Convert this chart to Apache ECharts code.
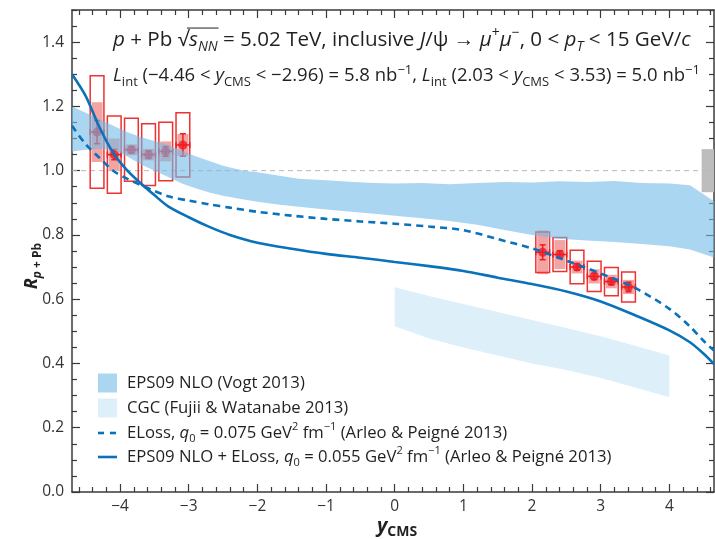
<!DOCTYPE html>
<html>
<head>
<meta charset="utf-8">
<script src="https://cdn.jsdelivr.net/npm/echarts@6/dist/echarts.min.js"></script>
<style>html,body{margin:0;padding:0;background:#fff}#chart{width:715px;height:539px}</style>
</head>
<body>
<div id="chart"></div>
<script>
// Inclusive J/psi nuclear modification factor R_pPb versus rapidity,
// measured points compared with model calculations.

// ---- measured points: backward rapidity (Pb-going side) ----
const yBackward        = [-4.335, -4.085, -3.835, -3.585, -3.335, -3.085];
const rBackward        = [1.12, 1.05, 1.065, 1.05, 1.06, 1.08];
const statBackward     = [0.036, 0.016, 0.010, 0.012, 0.015, 0.035];
const sysUncorrBackward = [0.175, 0.12, 0.098, 0.096, 0.091, 0.10];   // open boxes
const sysCorrBackward  = [0.093, 0.05, 0.017, 0.018, 0.031, 0.034];   // filled boxes

// ---- measured points: forward rapidity (p-going side) ----
const yForward         = [2.155, 2.405, 2.655, 2.905, 3.155, 3.405];
const rForward         = [0.746, 0.739, 0.700, 0.671, 0.655, 0.638];
const statForward      = [0.023, 0.012, 0.010, 0.010, 0.010, 0.015];
const sysUncorrForward = [0.063, 0.053, 0.052, 0.047, 0.044, 0.047];
const sysCorrForward   = [0.068, 0.045, 0.020, 0.022, 0.021, 0.022];

// global (fully correlated) uncertainty around unity
const globalUncertainty = 0.067;
const globalBoxRange    = [4.47, 4.65];

// ---- energy-loss curves (Arleo & Peigne 2013) ----
const curveY = [-4.7, -4.5, -4.3, -4.1, -3.9, -3.7, -3.5, -3.3, -3.0, -2.7, -2.4, -2.0, -1.5, -1.0, -0.5, 0, 0.5, 1.0, 1.5, 2.0, 2.5, 3.0, 3.5, 4.0, 4.3, 4.5, 4.65];
const eLoss075 = [1.14, 1.082, 1.04, 1.0, 0.975, 0.955, 0.937, 0.92, 0.907, 0.895, 0.885, 0.872, 0.86, 0.85, 0.842, 0.835, 0.826, 0.815, 0.787, 0.758, 0.72, 0.68, 0.635, 0.57, 0.515, 0.47, 0.44];
const eps09ELoss055 = [1.30, 1.232, 1.135, 1.055, 1.002, 0.961, 0.924, 0.889, 0.855, 0.825, 0.80, 0.776, 0.757, 0.741, 0.729, 0.716, 0.703, 0.688, 0.667, 0.647, 0.624, 0.593, 0.55, 0.503, 0.466, 0.43, 0.398];

// ---- EPS09 NLO band (Vogt 2013) ----
const eps09Y  = [-4.7, -4.5, -4.3, -4.1, -3.9, -3.7, -3.5, -3.3, -3.1, -2.9, -2.7, -2.5, -2.2, -2.0, -1.7, -1.4, -1.0, -0.6, -0.3, 0, 0.4, 0.8, 1.2, 1.6, 2.0, 2.4, 2.8, 3.2, 3.6, 4.0, 4.3, 4.65];
const eps09Hi = [1.20, 1.18, 1.16, 1.14, 1.12, 1.105, 1.092, 1.08, 1.062, 1.045, 1.03, 1.015, 1.0, 0.995, 0.985, 0.975, 0.97, 0.965, 0.962, 0.96, 0.962, 0.958, 0.962, 0.965, 0.963, 0.967, 0.965, 0.968, 0.962, 0.96, 0.955, 0.905];
const eps09Lo = [1.06, 1.065, 1.068, 1.066, 1.045, 1.02, 1.0, 0.98, 0.96, 0.945, 0.932, 0.922, 0.91, 0.903, 0.895, 0.888, 0.879, 0.871, 0.866, 0.86, 0.852, 0.843, 0.832, 0.815, 0.80, 0.788, 0.783, 0.778, 0.772, 0.765, 0.755, 0.73];

// ---- CGC band (Fujii & Watanabe 2013) ----
const cgcY  = [0, 0.5, 1.0, 1.5, 2.0, 2.5, 3.0, 3.5, 4.0];
const cgcHi = [0.637, 0.61, 0.585, 0.56, 0.535, 0.51, 0.485, 0.455, 0.425];
const cgcLo = [0.516, 0.478, 0.45, 0.425, 0.40, 0.38, 0.355, 0.325, 0.295];

// ---- axis ticks ----
const xMajorTicks = [-4, -3, -2, -1, 0, 1, 2, 3, 4];
const yMajorTicks = [0, 0.2, 0.4, 0.6, 0.8, 1.0, 1.2, 1.4];

const X_MIN = -4.7, X_MAX = 4.65, Y_MIN = 0, Y_MAX = 1.5;
const xMinorTicks = [];
for (let k = -23; k <= 23; k++) { if (k % 5 !== 0) xMinorTicks.push(+(k * 0.2).toFixed(2)); }
const yMinorTicks = [];
for (let k = 1; k <= 30; k++) { if (k % 4 !== 0) yMinorTicks.push(+(k * 0.05).toFixed(2)); }

const FONT = '"Open Sans", "Noto Sans", sans-serif';
const INK = '#231F20';
const AXIS = '#3a3a3a';
const BLUE = '#0A72BA';
const RED = '#ED1C24';

const chart = echarts.init(document.getElementById('chart'), null, { renderer: 'canvas' });

// ---------- rich-text helpers ----------
function richStyles(fs, weight) {
  const sfs = Math.round(fs * 0.68);
  const lh = Math.round(fs * 1.35);
  const base = { fontSize: fs, fontFamily: FONT, fontWeight: weight, fill: INK, lineHeight: lh };
  const small = { fontSize: sfs, fontFamily: FONT, fontWeight: weight, fill: INK, lineHeight: sfs };
  return {
    n: Object.assign({}, base),
    i: Object.assign({}, base, { fontStyle: 'italic' }),
    sub: Object.assign({}, small, { verticalAlign: 'bottom' }),
    subi: Object.assign({}, small, { verticalAlign: 'bottom', fontStyle: 'italic' }),
    sup: Object.assign({}, small, { verticalAlign: 'top' })
  };
}
function richText(segs) {
  return segs.map(s => '{' + s[1] + '|' + s[0] + '}').join('');
}
const measureCtx = document.createElement('canvas').getContext('2d');
function segWidth(seg, styles) {
  const st = styles[seg[1]];
  measureCtx.font = (st.fontStyle || 'normal') + ' ' + (st.fontWeight || 'normal') + ' ' + st.fontSize + 'px ' + FONT;
  return measureCtx.measureText(seg[0]).width;
}
function richLabel(x, y, segs, fs, weight, align) {
  const styles = richStyles(fs, weight || 'normal');
  return {
    type: 'text', x: x, y: y, silent: true,
    style: {
      text: richText(segs), rich: styles, fontSize: fs, fontFamily: FONT, fill: INK,
      align: align || 'left', verticalAlign: 'middle'
    }
  };
}

// ---------- header lines ----------
const HEAD_FS1 = 20.6, HEAD_FS2 = 18.5;
const headLine1 = [
  ['p', 'i'], [' + Pb ', 'n'], ['√', 'n'], ['s', 'i'], ['NN', 'subi'],
  [' = 5.02 TeV, inclusive ', 'n'], ['J', 'i'], ['/ψ → ', 'n'], ['μ', 'i'], ['+', 'sup'],
  ['μ', 'i'], ['−', 'sup'], [', 0 < ', 'n'], ['p', 'i'], ['T', 'subi'], [' < 15 GeV/', 'n'], ['c', 'i']
];
const headLine2 = [
  ['L', 'i'], ['int', 'sub'], [' (−4.46 < ', 'n'], ['y', 'i'], ['CMS', 'sub'], [' < −2.96) = 5.8 nb', 'n'], ['−1', 'sup'],
  [', ', 'n'], ['L', 'i'], ['int', 'sub'], [' (2.03 < ', 'n'], ['y', 'i'], ['CMS', 'sub'], [' < 3.53) = 5.0 nb', 'n'], ['−1', 'sup']
];
const HEAD_X = 113, HEAD_Y1 = 40, HEAD_Y2 = 76;

// radical overline position for sqrt(s_NN)
const headStyles = richStyles(HEAD_FS1, 'normal');
let ovStart = HEAD_X;
for (let k = 0; k < 2; k++) ovStart += segWidth(headLine1[k], headStyles);
const rootW = segWidth(headLine1[2], headStyles);
ovStart += rootW * 0.82;
const ovEnd = ovStart + rootW * 0.18 + segWidth(headLine1[3], headStyles) + segWidth(headLine1[4], headStyles) + 1;

// ---------- legend ----------
const LEG_FS = 16.7;
const legendRows = [
  [['EPS09 NLO (Vogt 2013)', 'n']],
  [['CGC (Fujii & Watanabe 2013)', 'n']],
  [['ELoss, ', 'n'], ['q', 'i'], ['0', 'sub'], [' = 0.075 GeV', 'n'], ['2', 'sup'], [' fm', 'n'], ['−1', 'sup'], [' (Arleo & Peigné 2013)', 'n']],
  [['EPS09 NLO + ELoss, ', 'n'], ['q', 'i'], ['0', 'sub'], [' = 0.055 GeV', 'n'], ['2', 'sup'], [' fm', 'n'], ['−1', 'sup'], [' (Arleo & Peigné 2013)', 'n']]
];
const LEG_X = 98, LEG_TX = 127, LEG_Y = [383, 408, 433, 457];

const EPS09_FILL = 'rgba(113,187,232,0.6)';
const CGC_FILL = '#DDF0FA';

const yTitle = richLabel(0, 0, [['R', 'i'], ['p', 'subi'], [' + Pb', 'sub']], 18, 'bold', 'center');
yTitle.x = 32; yTitle.y = 266; yTitle.rotation = Math.PI / 2;

const graphics = [
  richLabel(HEAD_X, HEAD_Y1, headLine1, HEAD_FS1),
  richLabel(HEAD_X, HEAD_Y2, headLine2, HEAD_FS2),
  { type: 'line', silent: true, shape: { x1: ovStart, y1: HEAD_Y1 - HEAD_FS1 * 0.58, x2: ovEnd, y2: HEAD_Y1 - HEAD_FS1 * 0.58 }, style: { stroke: INK, lineWidth: 1 } },
  // legend swatches
  { type: 'rect', silent: true, shape: { x: LEG_X, y: LEG_Y[0] - 9.5, width: 19, height: 19 }, style: { fill: EPS09_FILL } },
  { type: 'rect', silent: true, shape: { x: LEG_X, y: LEG_Y[1] - 9.5, width: 19, height: 19 }, style: { fill: CGC_FILL } },
  { type: 'line', silent: true, shape: { x1: LEG_X, y1: LEG_Y[2], x2: LEG_X + 19, y2: LEG_Y[2] }, style: { stroke: BLUE, lineWidth: 2.6, lineDash: [6, 6] } },
  { type: 'line', silent: true, shape: { x1: LEG_X, y1: LEG_Y[3], x2: LEG_X + 19, y2: LEG_Y[3] }, style: { stroke: BLUE, lineWidth: 2.6 } },
  // axis titles
  yTitle,
  richLabel(397, 526, [['y', 'i'], ['CMS', 'sub']], 20, 'bold', 'center')
];
legendRows.forEach((segs, k) => graphics.push(richLabel(LEG_TX, LEG_Y[k], segs, LEG_FS)));

// ---------- axes ----------
function fmtX(v) { return v < 0 ? '−' + Math.abs(v) : String(v); }
function xAxisDef(grid, pos, ticks, len, withLabels) {
  return {
    gridIndex: grid, type: 'value', min: X_MIN, max: X_MAX, position: pos,
    axisLine: { show: grid === 0, onZero: false, lineStyle: { color: AXIS, width: 1.5 } },
    axisTick: { show: true, inside: true, length: len, customValues: ticks, lineStyle: { color: AXIS, width: 1.2 } },
    axisLabel: withLabels ? { show: true, customValues: ticks, formatter: fmtX, fontSize: 15.5, color: '#333', fontFamily: FONT, margin: 7 } : { show: false },
    splitLine: { show: false }
  };
}
function yAxisDef(grid, pos, ticks, len, withLabels) {
  return {
    gridIndex: grid, type: 'value', min: Y_MIN, max: Y_MAX, position: pos,
    axisLine: { show: grid === 0, onZero: false, lineStyle: { color: AXIS, width: 1.5 } },
    axisTick: { show: true, inside: true, length: len, customValues: ticks, lineStyle: { color: AXIS, width: 1.2 } },
    axisLabel: withLabels ? { show: true, customValues: ticks, formatter: v => v.toFixed(1), fontSize: 15.5, color: '#333', fontFamily: FONT, margin: 8 } : { show: false },
    splitLine: { show: false }
  };
}

// ---------- series builders ----------
function bandSeries(xs, lo, hi, fill, z) {
  return {
    type: 'custom', z: z, silent: true, clip: true, xAxisIndex: 0, yAxisIndex: 0,
    data: xs.map((x, i) => [x, lo[i], hi[i]]),
    renderItem: function (params, api) {
      if (params.dataIndex !== 0) return null;
      const pts = [];
      for (let i = 0; i < xs.length; i++) pts.push(api.coord([xs[i], hi[i]]));
      for (let i = xs.length - 1; i >= 0; i--) pts.push(api.coord([xs[i], lo[i]]));
      return { type: 'polygon', shape: { points: pts, smooth: 0 }, style: { fill: fill } };
    }
  };
}

const pointData = [];
yBackward.forEach((y, i) => pointData.push([y, rBackward[i], statBackward[i], sysUncorrBackward[i], sysCorrBackward[i]]));
yForward.forEach((y, i) => pointData.push([y, rForward[i], statForward[i], sysUncorrForward[i], sysCorrForward[i]]));

const BOX_HALF = 0.1, FILL_HALF = 0.08;
function renderPoint(params, api) {
  const x = api.value(0), r = api.value(1), st = api.value(2), su = api.value(3), sc = api.value(4);
  const a = api.coord([x - BOX_HALF, r + su]), b = api.coord([x + BOX_HALF, r - su]);
  const fa = api.coord([x - FILL_HALF, r + sc]), fb = api.coord([x + FILL_HALF, r - sc]);
  const c = api.coord([x, r]);
  const top = api.coord([x, r + st])[1], bot = api.coord([x, r - st])[1];
  const line = (x1, y1, x2, y2) => ({ type: 'line', shape: { x1, y1, x2, y2 }, style: { stroke: RED, lineWidth: 1.5 } });
  return {
    type: 'group', children: [
      { type: 'rect', shape: { x: fa[0], y: fa[1], width: fb[0] - fa[0], height: fb[1] - fa[1] }, style: { fill: '#F4A3A3' } },
      { type: 'rect', shape: { x: a[0], y: a[1], width: b[0] - a[0], height: b[1] - a[1] }, style: { fill: 'none', stroke: '#EE3131', lineWidth: 1.5 } },
      line(c[0], top, c[0], bot),
      line(c[0] - 3, top, c[0] + 3, top),
      line(c[0] - 3, bot, c[0] + 3, bot),
      line(a[0], c[1], b[0], c[1]),
      line(a[0], c[1] - 3, a[0], c[1] + 3),
      line(b[0], c[1] - 3, b[0], c[1] + 3)
    ]
  };
}

const option = {
  animation: false,
  backgroundColor: '#fff',
  grid: [
    { left: 72, right: 1, top: 10, bottom: 47 },
    { left: 72, right: 1, top: 10, bottom: 47 }
  ],
  xAxis: [
    xAxisDef(0, 'bottom', xMajorTicks, 8, true),
    xAxisDef(0, 'top', xMajorTicks, 8, false),
    xAxisDef(1, 'bottom', xMinorTicks, 5, false),
    xAxisDef(1, 'top', xMinorTicks, 5, false)
  ],
  yAxis: [
    yAxisDef(0, 'left', yMajorTicks, 8, true),
    yAxisDef(0, 'right', yMajorTicks, 8, false),
    yAxisDef(1, 'left', yMinorTicks, 5, false),
    yAxisDef(1, 'right', yMinorTicks, 5, false)
  ],
  series: [
    {
      type: 'line', z: 1, xAxisIndex: 0, yAxisIndex: 0, silent: true, symbol: 'none',
      data: [[X_MIN, 1], [X_MAX, 1]],
      lineStyle: { color: '#b8b8b8', width: 1, type: [5, 4] }
    },
    {
      type: 'custom', z: 1, xAxisIndex: 0, yAxisIndex: 0, silent: true,
      data: [[globalBoxRange[0], globalBoxRange[1], 1, globalUncertainty]],
      renderItem: function (params, api) {
        const p0 = api.coord([api.value(0), api.value(2) + api.value(3)]);
        const p1 = api.coord([api.value(1), api.value(2) - api.value(3)]);
        return { type: 'rect', shape: { x: p0[0], y: p0[1], width: p1[0] - p0[0], height: p1[1] - p0[1] }, style: { fill: '#BDBDBD' } };
      }
    },
    bandSeries(cgcY, cgcLo, cgcHi, CGC_FILL, 1),
    {
      type: 'custom', z: 2, xAxisIndex: 0, yAxisIndex: 0, silent: true,
      data: pointData, renderItem: renderPoint
    },
    {
      type: 'scatter', z: 3, xAxisIndex: 0, yAxisIndex: 0, silent: true,
      symbol: 'circle', symbolSize: 9,
      itemStyle: { color: RED },
      data: pointData.map(p => [p[0], p[1]])
    },
    bandSeries(eps09Y, eps09Lo, eps09Hi, EPS09_FILL, 4),
    {
      type: 'line', z: 5, xAxisIndex: 0, yAxisIndex: 0, silent: true, symbol: 'none', smooth: 0.3,
      data: curveY.map((y, i) => [y, eLoss075[i]]),
      lineStyle: { color: BLUE, width: 2.6, type: [7, 5] }
    },
    {
      type: 'line', z: 5, xAxisIndex: 0, yAxisIndex: 0, silent: true, symbol: 'none', smooth: 0.3,
      data: curveY.map((y, i) => [y, eps09ELoss055[i]]),
      lineStyle: { color: BLUE, width: 2.6 }
    }
  ],
  graphic: graphics
};
chart.setOption(option);
</script>
</body>
</html>
